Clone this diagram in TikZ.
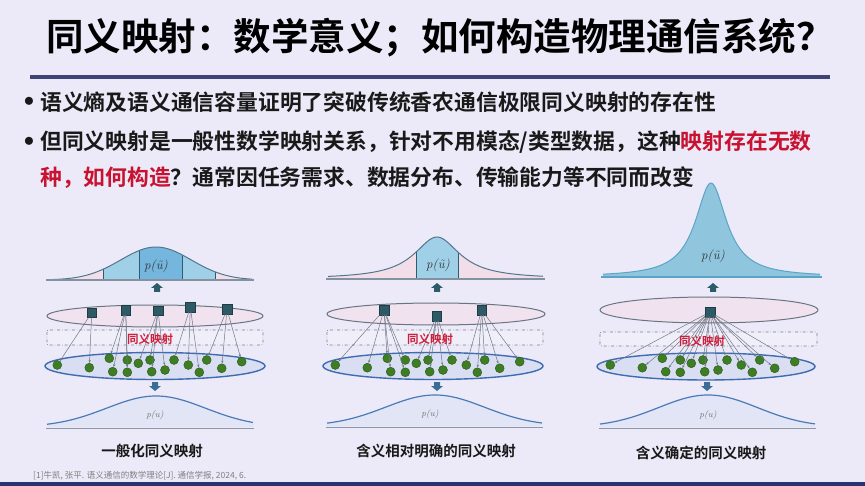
\documentclass[tikz,border=0pt]{standalone}
\usepackage{fontspec}
\usetikzlibrary{arrows.meta}
\newfontfamily\cjk{Noto Sans CJK SC}[BoldFont={Noto Sans CJK SC Bold}]
\definecolor{bg}{RGB}{236,234,248}
\definecolor{titleline}{RGB}{62,68,118}
\definecolor{band}{RGB}{40,52,112}
\definecolor{hired}{RGB}{200,18,48}
\definecolor{mapred}{RGB}{206,30,60}
\definecolor{pinkfill}{RGB}{242,222,232}
\definecolor{bluelight}{RGB}{160,208,232}
\definecolor{bluemid}{RGB}{116,182,222}
\definecolor{bluepeak}{RGB}{143,198,222}
\definecolor{segline}{RGB}{46,92,110}
\definecolor{topstroke}{RGB}{84,118,140}
\definecolor{topbase}{RGB}{130,146,160}
\definecolor{peakstroke}{RGB}{90,165,197}
\definecolor{sqfill}{RGB}{46,90,102}
\definecolor{sqedge}{RGB}{30,60,70}
\definecolor{dotfill}{RGB}{62,125,36}
\definecolor{dotedge}{RGB}{40,90,24}
\definecolor{conncol}{RGB}{110,120,136}
\definecolor{upedge}{RGB}{105,118,130}
\definecolor{upfill}{RGB}{240,226,238}
\definecolor{loedge}{RGB}{62,108,176}
\definecolor{lofill}{RGB}{218,222,243}
\definecolor{boxcol}{RGB}{120,126,140}
\definecolor{arrowup}{RGB}{44,92,106}
\definecolor{arrowdn}{RGB}{58,108,150}
\definecolor{botstroke}{RGB}{74,122,184}
\definecolor{botfill}{RGB}{226,229,245}
\definecolor{botbase}{RGB}{140,150,165}
\begin{document}
\begin{tikzpicture}[x=1pt,y=-1pt,
  declare function={gau(\t,\c,\s)=exp(-((\t-\c)/\s)*((\t-\c)/\s));
                    lor(\t,\c,\g)=1/(1+((\t-\c)/\g)*((\t-\c)/\g));},
  sq/.style={draw=sqedge, fill=sqfill, minimum size=9.5pt, inner sep=0pt, line width=0.4pt},
  gdot/.style={circle, draw=dotedge, fill=dotfill, minimum size=9pt, inner sep=0pt, line width=0.4pt},
  conn/.style={draw=conncol, line width=0.5pt, -{Stealth[length=3pt,width=2.2pt]}},
  upell/.style={draw=upedge, fill=upfill, line width=1pt},
  loell/.style={draw=loedge, fill=lofill, line width=1.4pt},
  mapbox/.style={draw=boxcol, dash dot, line width=0.9pt, rounded corners=2pt, fill=white, fill opacity=0.25},
  maplabel/.style={text=mapred, font=\cjk\bfseries\fontsize{11.5}{12}\selectfont, inner sep=0.5pt},
  ulabel/.style={text=black!80, font=\itshape\fontsize{13}{13}\selectfont, inner sep=0pt},
  plabel/.style={text=black!55, font=\itshape\fontsize{9}{9}\selectfont, inner sep=0pt},
  caption/.style={text=black!90, font=\cjk\bfseries\fontsize{14.5}{15}\selectfont, inner sep=0pt},
  bullettext/.style={anchor=west, text=black!90, font=\cjk\bfseries\fontsize{21.8}{22}\selectfont, inner sep=0pt},
  bulletmark/.style={text=black!90, font=\fontsize{20}{20}\selectfont, inner sep=0pt},
  segl/.style={draw=segline, line width=0.8pt},
  tops/.style={draw=topstroke, line width=1pt},
  topb/.style={draw=topbase, line width=2.4pt},
  bots/.style={draw=botstroke, line width=1.2pt},
  botb/.style={draw=botbase, line width=1pt},
  uparrowpic/.pic={\fill[arrowup] (-6,0) -- (0,-5) -- (6,0) -- (3,0) -- (3,4) -- (-3,4) -- (-3,0) -- cycle;},
  dnarrowpic/.pic={\fill[arrowdn] (-6,0) -- (0,5) -- (6,0) -- (3,0) -- (3,-4) -- (-3,-4) -- (-3,0) -- cycle;}
]
\useasboundingbox (0,0) rectangle (865,486);
\fill[bg] (0,0) rectangle (865,486);
\fill[band] (0,482) rectangle (865,486);

% title
\node[font=\cjk\bfseries\fontsize{37.5}{38}\selectfont, text=black, inner sep=0pt] (title) at (440,38) {同义映射：数学意义；如何构造物理通信系统？};
\fill[titleline] (30,75) rectangle (830,79.5);

% bullets
\node[bulletmark] (bul1) at (29,102) {$\bullet$};
\node[bullettext] (b1) at (40,102) {语义熵及语义通信容量证明了突破传统香农通信极限同义映射的存在性};
\node[bulletmark] (bul2) at (29,142) {$\bullet$};
\node[bullettext] (b2) at (40,142) {但同义映射是一般性数学映射关系，针对不用模态/类型数据，这种\textcolor{hired}{映射存在无数}};
\node[bullettext] (b3) at (40,178) {\textcolor{hired}{种，如何构造}？通常因任务需求、数据分布、传输能力等不同而改变};

% ================= top curves =================
% panel 1
\fill[pinkfill] (48,280) -- plot[domain=48:252,samples=101] (\x,{280-33*gau(\x,156,50)}) -- (252,280) -- cycle;
\begin{scope}
  \clip (48,280) -- plot[domain=48:252,samples=101] (\x,{280-33*gau(\x,156,50)}) -- (252,280) -- cycle;
  \fill[bluelight] (103,230) rectangle (215,281);
  \fill[bluemid] (139,230) rectangle (182,281);
  \draw[segl] (103,230) -- (103,281) (139,230) -- (139,281) (182,230) -- (182,281) (215,230) -- (215,281);
\end{scope}
\draw[tops] plot[domain=48:252,samples=101] (\x,{280-33*gau(\x,156,50)});
\draw[topb] (46,280) -- (254,280);
\node[ulabel] (pu1) at (156,266) {p(ũ)};

% panel 2
\fill[pinkfill] (328,279) -- plot[domain=328:543,samples=121] (\x,{279-42*lor(\x,437,28)}) -- (543,279) -- cycle;
\begin{scope}
  \clip (328,279) -- plot[domain=328:543,samples=121] (\x,{279-42*lor(\x,437,28)}) -- (543,279) -- cycle;
  \fill[bluelight] (416,230) rectangle (458,280);
  \draw[segl] (416,230) -- (416,280) (458,230) -- (458,280);
\end{scope}
\draw[tops] plot[domain=328:543,samples=121] (\x,{279-42*lor(\x,437,28)});
\draw[topb] (326,279) -- (545,279);
\node[ulabel] (pu2) at (438,265) {p(ũ)};

% panel 3
\fill[bluepeak] (603,277) -- plot[domain=603:820,samples=161] (\x,{277-94*lor(\x,711,19)}) -- (820,277) -- cycle;
\draw[draw=peakstroke, line width=1pt] plot[domain=603:820,samples=161] (\x,{277-94*lor(\x,711,19)});
\draw[draw=peakstroke, line width=2.6pt] (601,277) -- (822,277);
\node[ulabel] (pu3) at (713,256) {p(ũ)};

% up arrows
\pic at (157,288) {uparrowpic};
\pic at (437,288) {uparrowpic};
\pic at (713,288) {uparrowpic};

% ================= ellipses & boxes =================
\draw[upell] (155,316) ellipse [x radius=108, y radius=11];
\draw[upell] (436,314) ellipse [x radius=109, y radius=11];
\draw[upell] (709,310) ellipse [x radius=109, y radius=13];

\draw[mapbox] (47,330) rectangle (263,345);
\draw[mapbox] (327,330) rectangle (543,345);
\draw[mapbox] (600,332) rectangle (817,346);

\draw[loell] (155,366) ellipse [x radius=110, y radius=13.5];
\draw[loell] (433,366) ellipse [x radius=110, y radius=13.5];
\draw[loell] (706,366.5) ellipse [x radius=109, y radius=13.5];

% squares
\node[sq] (p1s1) at (91.7,312.7) {};
\node[sq] (p1s2) at (125.7,310) {};
\node[sq] (p1s3) at (158,310.7) {};
\node[sq] (p1s4) at (190.3,307) {};
\node[sq] (p1s5) at (227,309.3) {};
\node[sq] (p2s1) at (384,310) {};
\node[sq] (p2s2) at (436.7,316) {};
\node[sq] (p2s3) at (481.7,310) {};
\node[sq] (p3s1) at (710,312) {};

% dots
\def\dotlist{57.3/365/1, 89.3/367.7/2, 109.3/358.3/3, 112.7/371.7/4, 127.3/360/5, 127.3/372.3/6, 138.3/363.3/7, 150/360/8, 151.7/371.7/9, 165/370/10, 174/360/11, 188.3/365/12, 199.3/372.3/13, 206.7/360/14, 221.7/368.3/15, 241.7/361.7/16}
\foreach \ox/\pn in {0/1,278/2,553/3}{
  \foreach \dx/\dy/\i in \dotlist{
    \node[gdot] (p\pn d\i) at (\dx+\ox,\dy) {};
  }
}

% connectors
\foreach \s/\d in {1/1,1/2,2/3,2/4,2/5,2/6,3/7,3/8,3/9,3/10,4/11,4/12,4/13,5/14,5/15,5/16}
  \draw[conn] (p1s\s) -- (p1d\d);
\foreach \s/\d in {1/1,1/2,1/3,1/4,1/5,1/6,2/7,2/8,2/9,2/10,2/11,3/12,3/13,3/14,3/15,3/16}
  \draw[conn] (p2s\s) -- (p2d\d);
\foreach \d in {1,...,16}
  \draw[conn] (p3s1) -- (p3d\d);

% mapping labels
\node[maplabel] (m1) at (150,339) {同义映射};
\node[maplabel] (m2) at (430,339.5) {同义映射};
\node[maplabel] (m3) at (702,341) {同义映射};

% down arrows
\pic at (155,386) {dnarrowpic};
\pic at (437,386) {dnarrowpic};
\pic at (707,386) {dnarrowpic};

% ================= bottom curves =================
\fill[botfill] (47,427) -- plot[domain=47:253,samples=101] (\x,{427-31*gau(\x,156,70)}) -- (253,427) -- cycle;
\draw[bots] plot[domain=47:253,samples=101] (\x,{427-31*gau(\x,156,70)});
\draw[botb] (46,428.5) -- (254,428.5);
\node[plabel] (pl1) at (155,415) {p(u)};

\fill[botfill] (327,426) -- plot[domain=327:542,samples=101] (\x,{426-31*gau(\x,435,70)}) -- (542,426) -- cycle;
\draw[bots] plot[domain=327:542,samples=101] (\x,{426-31*gau(\x,435,70)});
\draw[botb] (326,427.5) -- (543,427.5);
\node[plabel] (pl2) at (430,414) {p(u)};

\fill[botfill] (600,427) -- plot[domain=600:815,samples=101] (\x,{427-32*gau(\x,708,70)}) -- (815,427) -- cycle;
\draw[bots] plot[domain=600:815,samples=101] (\x,{427-32*gau(\x,708,70)});
\draw[botb] (599,428.5) -- (816,428.5);
\node[plabel] (pl3) at (708,415) {p(u)};

% captions
\node[caption] (c1) at (152,451) {一般化同义映射};
\node[caption] (c2) at (436,451) {含义相对明确的同义映射};
\node[caption] (c3) at (701,453) {含义确定的同义映射};

% footnote
\node[anchor=west, text=black!50, font=\cjk\fontsize{8.5}{9}\selectfont, inner sep=0pt] (fn) at (33,476) {[1]牛凯, 张平. 语义通信的数学理论[J]. 通信学报, 2024, 6.};
\end{tikzpicture}
\end{document}
